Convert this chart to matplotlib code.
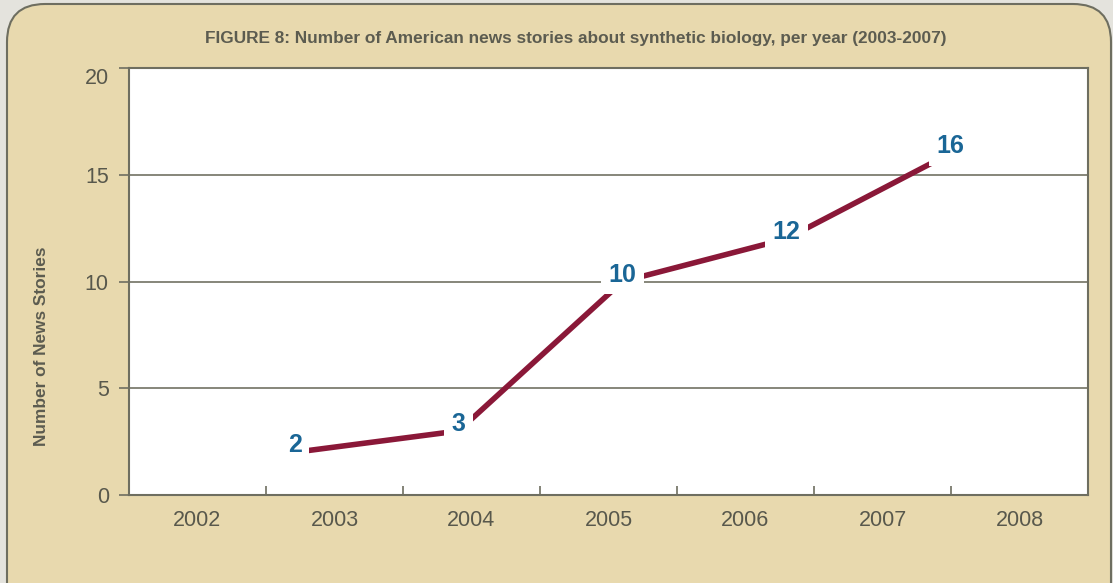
import matplotlib.pyplot as plt
from matplotlib.patches import FancyBboxPatch

plt.rcParams['font.family'] = ['Liberation Sans', 'DejaVu Sans']

# stories per year
years = [2003, 2004, 2005, 2006, 2007]
stories = [2, 3, 10, 12, 16]
axis_years = ['2002', '2003', '2004', '2005', '2006', '2007', '2008']
y_ticks = [0, 5, 10, 15, 20]

grey_text = '#58584c'
frame = '#6e6e60'

fig = plt.figure(figsize=(11.13, 5.83), dpi=100)
fig.patch.set_facecolor('#e4e3dd')

# beige card behind everything, drawn in pixel units
bg = fig.add_axes([0, 0, 1, 1])
bg.set_xlim(0, 1113)
bg.set_ylim(583, 0)
bg.axis('off')
card = FancyBboxPatch((7, 4), 1104, 640, boxstyle='round,pad=0,rounding_size=38',
                      facecolor='#e8d9ae', edgecolor=frame, linewidth=1.5)
bg.add_patch(card)

ax = fig.add_axes([129/1113, 1-495/583, (1088-129)/1113, (495-68)/583])
ax.set_facecolor('white')
ax.set_xlim(-0.5, 6.5)
ax.set_ylim(0, 20)
for s in ax.spines.values():
    s.set_color(frame)
    s.set_linewidth(1.5)

ax.set_yticks(y_ticks)
ax.set_yticklabels([str(v) for v in y_ticks])
ax.tick_params(axis='y', direction='out', length=7.5, width=1.2, color=frame,
               pad=7, labelsize=15.5, labelcolor=grey_text)
# top label hangs below its tick
ax.get_yticklabels()[-1].set_va('top')
for v in y_ticks[1:-1]:
    ax.axhline(v, color='#7d7d70', linewidth=1.3, zorder=1)

ax.set_xticks(range(len(axis_years)))
ax.set_xticklabels(axis_years)
ax.set_xticks([i + 0.5 for i in range(len(axis_years) - 1)], minor=True)
ax.tick_params(axis='x', which='major', length=0, pad=11, labelsize=15.5,
               labelcolor=grey_text)
ax.tick_params(axis='x', which='minor', direction='in', length=6.5, width=1.2,
               color=frame)

# the story line sits on its own x scale
ax2 = ax.twiny()
ax2.set_xlim(2001.99, 2007.84)
ax2.set_ylim(0, 20)
ax2.axis('off')
ax2.plot(years, stories, color='#8a1838', linewidth=4, solid_capstyle='butt', zorder=3)
for x, v in zip(years, stories):
    ax2.annotate(str(v), (x, v), xytext=(0, 7), textcoords='offset pixels',
                 ha='center', va='center', fontsize=18, fontweight='bold',
                 color='#1a6696', zorder=4,
                 bbox=dict(boxstyle='square,pad=0.3', facecolor='white', edgecolor='none'))

fig.text(576/1113, 1-38/583,
         'FIGURE 8: Number of American news stories about synthetic biology, per year (2003-2007)',
         ha='center', va='center', fontsize=12.4, fontweight='bold', color='#5c5c50')
fig.text(42/1113, 1-346/583, 'Number of News Stories', rotation=90,
         ha='center', va='center', fontsize=12.4, fontweight='bold', color='#5c5c50')

fig.savefig('out.png', dpi=100, facecolor=fig.get_facecolor())
